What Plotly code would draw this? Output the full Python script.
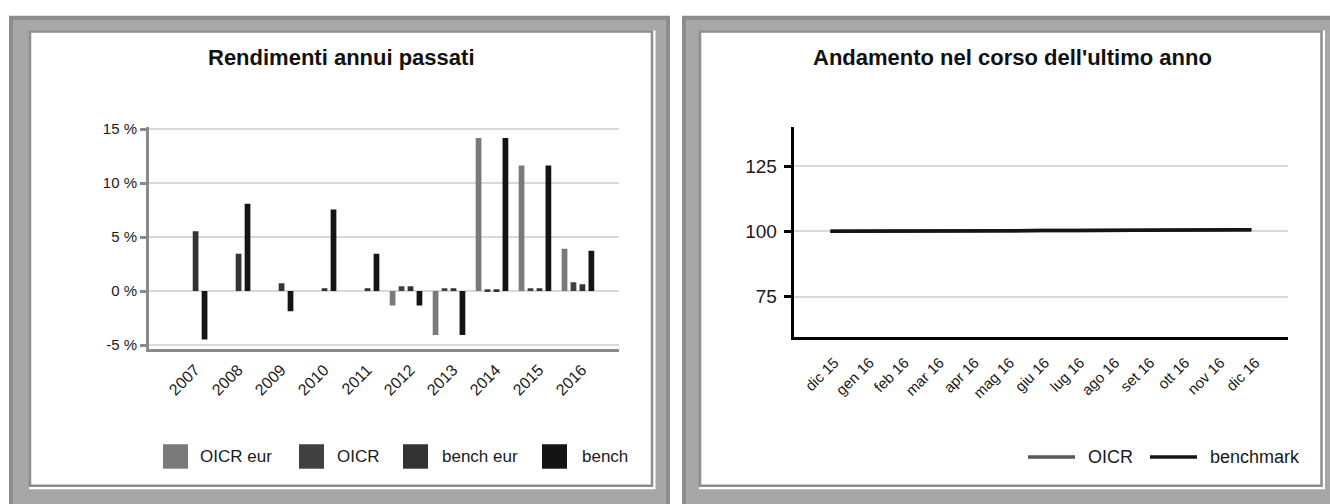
import plotly.graph_objects as go

W, H = 1330, 504

# ---------------- data ----------------
years = ["2007", "2008", "2009", "2010", "2011", "2012", "2013", "2014", "2015", "2016"]
oicr_eur = [None, None, None, None, None, -1.33, -4.06, 14.18, 11.64, 3.91]
oicr = [None, None, None, None, None, 0.45, 0.27, 0.18, 0.27, 0.82]
bench_eur = [5.55, 3.45, 0.73, 0.27, 0.27, 0.45, 0.27, 0.18, 0.27, 0.64]
bench = [-4.48, 8.09, -1.88, 7.55, 3.45, -1.33, -4.06, 14.18, 11.64, 3.73]
pct_ticks = [-5, 0, 5, 10, 15]

months = ["dic 15", "gen 16", "feb 16", "mar 16", "apr 16", "mag 16", "giu 16",
          "lug 16", "ago 16", "set 16", "ott 16", "nov 16", "dic 16"]
oicr_line = [100.0, 100.0, 100.05, 100.1, 100.1, 100.2, 100.3, 100.35, 100.35, 100.4, 100.45, 100.5, 100.6]
bench_line = [100.0, 100.0, 100.05, 100.1, 100.1, 100.2, 100.3, 100.35, 100.35, 100.4, 100.45, 100.5, 100.6]
idx_ticks = [75, 100, 125]

bar_names = ["OICR eur", "OICR", "bench eur", "bench"]
bar_colors = ["#7a7a7a", "#404040", "#333333", "#141414"]
line_names = ["OICR", "benchmark"]
line_colors = ["#575757", "#141414"]

FONT = "Liberation Sans, Arial, sans-serif"
TXT = "#1a1a1a"


def px(x):
    return x / W


def py(y):
    return 1 - y / H


fig = go.Figure()

for name, vals, col in zip(bar_names, [oicr_eur, oicr, bench_eur, bench], bar_colors):
    fig.add_trace(go.Bar(x=years, y=vals, name=name, marker=dict(color=col, line=dict(width=0)),
                         xaxis="x", yaxis="y", showlegend=False))

for name, vals, col in zip(line_names, [oicr_line, bench_line], line_colors):
    fig.add_trace(go.Scatter(x=months, y=vals, name=name, mode="lines",
                             line=dict(color=col, width=3.5), xaxis="x2", yaxis="y2",
                             showlegend=False))

# ---------------- frames ----------------
shapes = []
LIGHT = "#a7a7a7"
DARK = "#8d8d8d"


def rect(x0, y0, x1, y1, fill, line_col=None, lw=0, layer="below"):
    d = dict(type="rect", xref="paper", yref="paper", x0=px(x0), x1=px(x1), y0=py(y1), y1=py(y0),
             fillcolor=fill, layer=layer)
    if line_col:
        d["line"] = dict(color=line_col, width=lw)
    else:
        d["line"] = dict(width=0)
    return d


for (ox0, ox1, ix0, ix1) in [(11, 668, 30, 652), (684, 1345, 700, 1321.5)]:
    shapes.append(rect(ox0, 11, ox1, 540, LIGHT, DARK, 4))
    shapes.append(rect(ix0 - 1, 24, ix1 + 3.5, 493, "white"))
    shapes.append(rect(ix0, 25, ix1, 489.5, "white", DARK, 2.5))

# legend (left)
leg_sq = [(163, 188), (299, 324), (403, 428), (542, 567)]
leg_tx = [198, 335, 440, 580]
for (a, b), t, name, col in zip(leg_sq, leg_tx, bar_names, bar_colors):
    shapes.append(rect(a, 447, b, 472, col, layer="above"))

# legend (right)
leg_ln = [(1028, 1075), (1150, 1197)]
leg_ltx = [1086, 1208]
for (a, b), col in zip(leg_ln, line_colors):
    shapes.append(dict(type="line", xref="paper", yref="paper", x0=px(a), x1=px(b), y0=py(460), y1=py(460),
                       line=dict(color=col, width=3.5), layer="above"))

annotations = [
    dict(text="<b>Rendimenti annui passati</b>", x=px(341), y=py(52), xref="paper", yref="paper",
         showarrow=False, xanchor="center", yanchor="middle", font=dict(size=22, color="#111", family=FONT)),
    dict(text="<b>Andamento nel corso dell'ultimo anno</b>", x=px(1012), y=py(52), xref="paper", yref="paper",
         showarrow=False, xanchor="center", yanchor="middle", font=dict(size=22, color="#111", family=FONT)),
]
for t, name in zip(leg_tx, bar_names):
    annotations.append(dict(text=name, x=px(t), y=py(460), xref="paper", yref="paper", showarrow=False,
                            xanchor="left", yanchor="middle", font=dict(size=17, color=TXT, family=FONT)))
for t, name in zip(leg_ltx, line_names):
    annotations.append(dict(text=name, x=px(t), y=py(460), xref="paper", yref="paper", showarrow=False,
                            xanchor="left", yanchor="middle", font=dict(size=18, color=TXT, family=FONT)))

fig.update_layout(
    width=W, height=H,
    margin=dict(l=0, r=0, t=0, b=0),
    paper_bgcolor="white",
    plot_bgcolor="rgba(0,0,0,0)",
    barmode="group", bargap=0.167, bargroupgap=0.36,
    showlegend=False,
    font=dict(family=FONT, color=TXT),
    shapes=shapes,
    annotations=annotations,
    xaxis=dict(domain=[px(149), px(619)], anchor="y", type="category", range=[-0.98, 9.955],
               showline=True, linecolor="#8a8a8a", linewidth=3, showgrid=False, ticks="",
               tickangle=-45, tickfont=dict(size=16, color=TXT), zeroline=False, fixedrange=True,
               ticklabelshift=4, ticklabelstandoff=2),
    yaxis=dict(domain=[py(350), py(122.7)], anchor="x", range=[-5.4, 15.2],
               tickvals=pct_ticks, ticktext=[f"{v} %" for v in pct_ticks],
               showline=True, linecolor="#8a8a8a", linewidth=3, ticks="outside", ticklen=6,
               tickwidth=3, tickcolor="#8a8a8a", showgrid=True, gridcolor="#d9d9d9", gridwidth=2,
               zeroline=False, tickfont=dict(size=15, color=TXT), fixedrange=True),
    xaxis2=dict(domain=[px(793.7), px(1287.7)], anchor="y2", type="category", range=[-1.046, 13.035],
                showline=True, linecolor="#000", linewidth=3, showgrid=False, ticks="",
                tickangle=-45, tickfont=dict(size=15, color=TXT), zeroline=False, fixedrange=True,
                ticklabelshift=4, ticklabelstandoff=8),
    yaxis2=dict(domain=[py(337.3), py(122.7)], anchor="x2", range=[59.5, 140],
                tickvals=idx_ticks, showline=True, linecolor="#000", linewidth=3, ticks="outside",
                ticklen=7, tickwidth=3, tickcolor="#000", showgrid=True, gridcolor="#d9d9d9",
                gridwidth=2, zeroline=False, tickfont=dict(size=19, color=TXT), fixedrange=True,
                ticklabelstandoff=3),
)

fig.write_html("out.html", config={"displayModeBar": False},
               post_script="document.body.style.margin='0';document.body.style.overflow='hidden';")
